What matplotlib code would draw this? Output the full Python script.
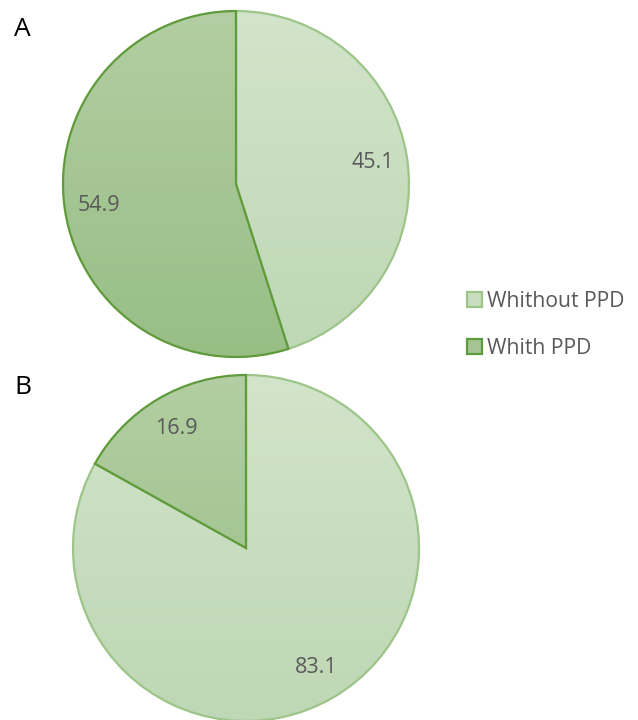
import numpy as np
import matplotlib
matplotlib.use("Agg")
from matplotlib import pyplot as plt
from matplotlib.patches import Patch

# chart data
categories = ["Whithout PPD", "Whith PPD"]
panel_a = [45.1, 54.9]
panel_b = [83.1, 16.9]
panel_names = ["A", "B"]

W, H = 638, 720
LIGHT_TOP = np.array([210, 228, 202]) / 255
LIGHT_BTM = np.array([190, 215, 180]) / 255
DARK_TOP = np.array([178, 206, 162]) / 255
DARK_BTM = np.array([152, 190, 134]) / 255
LIGHT_EDGE = "#9dc58a"
DARK_EDGE = "#5f9b3a"
TEXT_GREY = "#595959"

plt.rcParams["font.family"] = ["Open Sans", "DejaVu Sans"]

fig = plt.figure(figsize=(W / 100, H / 100), dpi=100)
ax = fig.add_axes([0, 0, 1, 1])


def gradient_fill(wedge, top, btm, cx, cy, r):
    t = np.linspace(0, 1, 256)[:, None, None]
    img = top + (btm - top) * t
    im = ax.imshow(img, extent=(cx - r, cx + r, cy - r, cy + r),
                   origin="upper", aspect="auto", zorder=1,
                   interpolation="bilinear")
    im.set_clip_path(wedge)


def draw_pie(values, cx, cy, r):
    wedges, _, autotexts = ax.pie(
        values, center=(cx, cy), radius=r, startangle=90,
        counterclock=False, autopct=lambda p: f"{p:.1f}",
        pctdistance=0.8,
        textprops=dict(color=TEXT_GREY, fontsize=15.5),
    )
    fills = [(LIGHT_TOP, LIGHT_BTM, LIGHT_EDGE, 2),
             (DARK_TOP, DARK_BTM, DARK_EDGE, 3)]
    for w, (top, btm, edge, z) in zip(wedges, fills):
        gradient_fill(w, top, btm, cx, cy, r)
        w.set_facecolor("none")
        w.set_edgecolor(edge)
        w.set_linewidth(1.6)
        w.set_zorder(z)
    for t in autotexts:
        t.set_zorder(5)


draw_pie(panel_a, 236, H - 184, 173)
draw_pie(panel_b, 246, H - 548, 173)

ax.text(14, H - 30, panel_names[0], fontsize=19, color="black", va="center")
ax.text(14, H - 388, panel_names[1], fontsize=19, color="black", va="center")

handles = [
    Patch(facecolor=(LIGHT_TOP + LIGHT_BTM) / 2, edgecolor=LIGHT_EDGE, linewidth=1.6),
    Patch(facecolor=(DARK_TOP + DARK_BTM) / 2, edgecolor=DARK_EDGE, linewidth=1.6),
]
leg = ax.legend(handles, categories, loc="center left",
                bbox_to_anchor=(467 / W, 1 - 325 / H), frameon=False,
                fontsize=15.2, handlelength=0.7, handleheight=0.7,
                handletextpad=0.25, labelspacing=1.25, borderpad=0,
                borderaxespad=0)
for t in leg.get_texts():
    t.set_color(TEXT_GREY)

ax.set_xlim(0, W)
ax.set_ylim(0, H)
ax.set_aspect("equal")
ax.axis("off")

fig.savefig("out.png", dpi=100)
